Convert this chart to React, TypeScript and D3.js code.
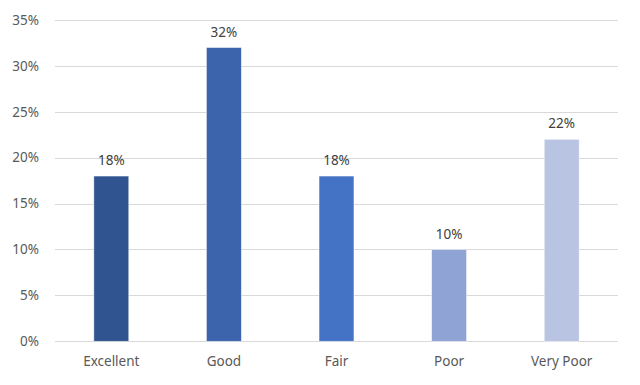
import React, { useRef, useEffect } from 'react';
import * as d3 from 'd3';

const categories = ['Excellent', 'Good', 'Fair', 'Poor', 'Very Poor'];
const values = [0.18, 0.32, 0.18, 0.10, 0.22];
const barColors = ['#30548F', '#3B64AD', '#4472C4', '#8FA3D5', '#B9C4E3'];
const yTicks = [0, 0.05, 0.1, 0.15, 0.2, 0.25, 0.3, 0.35];

const App = () => {
  const ref = useRef<SVGSVGElement | null>(null);

  useEffect(() => {
    if (!ref.current) return;
    const svg = d3.select(ref.current);
    svg.selectAll('*').remove();

    const width = 640;
    const height = 385;
    const margin = { top: 20, right: 22, bottom: 44, left: 55 };
    svg.attr('width', width).attr('height', height);

    const font = '"Noto Sans", "Open Sans", sans-serif';

    const x = d3.scaleBand()
      .domain(categories)
      .range([margin.left, width - margin.right])
      .paddingInner(0.69)
      .paddingOuter(0.345);

    const y = d3.scaleLinear()
      .domain([0, 0.35])
      .range([height - margin.bottom + 0.3, margin.top]);

    // gridlines
    svg.append('g')
      .selectAll('line')
      .data(yTicks)
      .enter()
      .append('line')
      .attr('x1', margin.left)
      .attr('x2', width - margin.right)
      .attr('y1', d => Math.round(y(d)) + 0.5)
      .attr('y2', d => Math.round(y(d)) + 0.5)
      .attr('stroke', '#D9D9D9')
      .attr('stroke-width', 1);

    // y tick labels
    svg.append('g')
      .selectAll('text')
      .data(yTicks)
      .enter()
      .append('text')
      .attr('x', 39)
      .attr('y', d => y(d))
      .attr('dy', '0.35em')
      .attr('text-anchor', 'end')
      .attr('font-family', font)
      .attr('font-size', 13.5)
      .attr('fill', '#595959')
      .text(d => d3.format('.0%')(d));

    // bars
    svg.append('g')
      .selectAll('rect')
      .data(values)
      .enter()
      .append('rect')
      .attr('x', (d, i) => x(categories[i]) as number)
      .attr('width', x.bandwidth())
      .attr('y', d => y(d))
      .attr('height', d => y(0) - y(d))
      .attr('fill', (d, i) => barColors[i])
      .attr('stroke', '#ffffff')
      .attr('stroke-opacity', 0.6)
      .attr('stroke-width', 0.75);

    // data labels
    svg.append('g')
      .selectAll('text')
      .data(values)
      .enter()
      .append('text')
      .attr('x', (d, i) => (x(categories[i]) as number) + x.bandwidth() / 2)
      .attr('y', d => y(d) - 11)
      .attr('text-anchor', 'middle')
      .attr('font-family', font)
      .attr('font-size', 13.5)
      .attr('fill', '#404040')
      .text(d => d3.format('.0%')(d));

    // x labels
    svg.append('g')
      .selectAll('text')
      .data(categories)
      .enter()
      .append('text')
      .attr('x', d => (x(d) as number) + x.bandwidth() / 2)
      .attr('y', 366)
      .attr('text-anchor', 'middle')
      .attr('font-family', font)
      .attr('font-size', 13.5)
      .attr('fill', '#595959')
      .text(d => d);
  }, []);

  return (
    <div style={{ position: 'absolute', top: 0, left: 0 }}>
      <svg ref={ref} style={{ display: 'block', background: '#fff' }} />
    </div>
  );
};

export default App;
